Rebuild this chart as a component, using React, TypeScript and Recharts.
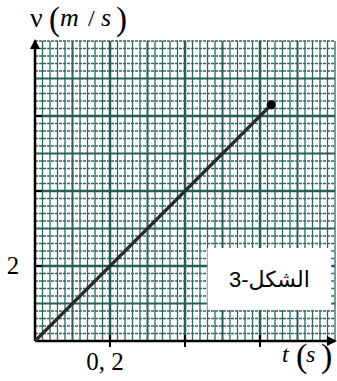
import React from 'react';
import {
  LineChart, Line, XAxis, YAxis, ReferenceArea, ReferenceLine,
} from 'recharts';

// ---- data ----
const lineT = [0, 0.63];
const lineV = [0, 6.3];
const data = lineT.map((t, i) => ({ t, v: lineV[i] }));

const tTicks = [0.2, 0.4, 0.6];
const vTicks = [2, 4, 6];
const tLabels: Record<string, string> = { '0.2': '0, 2' };
const vLabels: Record<string, string> = { '2': '2' };

// graph-paper lines (s and m/s)
const tMinor = [0.02, 0.04, 0.06, 0.08, 0.12, 0.14, 0.16, 0.18, 0.22, 0.24, 0.26, 0.28, 0.32, 0.34, 0.36, 0.38, 0.42, 0.44, 0.46, 0.48, 0.52, 0.54, 0.56, 0.58, 0.62, 0.64, 0.66, 0.68, 0.72, 0.74, 0.76, 0.78, 0.8];
const tMedium = [0.1, 0.3, 0.5, 0.7];
const tMajor = [0.2, 0.4, 0.6];
const vMinor = [0.2, 0.4, 0.6, 0.8, 1.2, 1.4, 1.6, 1.8, 2.2, 2.4, 2.6, 2.8, 3.2, 3.4, 3.6, 3.8, 4.2, 4.4, 4.6, 4.8, 5.2, 5.4, 5.6, 5.8, 6.2, 6.4, 6.6, 6.8, 7.2, 7.4, 7.6, 7.8, 8];
const vMedium = [1, 3, 5, 7];
const vMajor = [2, 4, 6];

const figureLabel = 'الشكل-3';
const boxT = [0.46, 0.79];
const boxV = [0.83, 2.48];

const tDomain: [number, number] = [0, 0.8];
const vDomain: [number, number] = [0, 8];

const SERIF = '"Liberation Serif", "Times New Roman", serif';
const TEAL_MINOR = '#2b6862';
const TEAL_MED = '#28605b';
const TEAL_MAJ = '#255d57';

const XTick = (props: any) => {
  const { x, y, payload } = props;
  const lab = tLabels[String(payload.value)];
  return (
    <g>
      <line x1={x} y1={y - 6} x2={x} y2={y + 6} stroke="#000" strokeWidth={2} />
      {lab && (
        <text x={x - 5} y={y + 29} textAnchor="middle" fontFamily={SERIF} fontSize={25} fill="#000">
          {lab}
        </text>
      )}
    </g>
  );
};

const YTick = (props: any) => {
  const { x, y, payload } = props;
  const lab = vLabels[String(payload.value)];
  return (
    <g>
      <line x1={x} y1={y} x2={x + 7} y2={y} stroke="#000" strokeWidth={2} />
      {lab && (
        <text x={13} y={y + 8} textAnchor="middle" fontFamily={SERIF} fontSize={25} fill="#000">
          {lab}
        </text>
      )}
    </g>
  );
};

const EndDot = (props: any) => {
  const { cx, cy, index } = props;
  if (index !== data.length - 1) return <g key={index} />;
  return <circle key={index} cx={cx} cy={cy} r={4.5} fill="#000" />;
};

const ax = { xAxisId: 'main', yAxisId: 'main' } as const;

export default function App() {
  return (
    <div style={{ position: 'absolute', left: 0, top: 0, width: 337, height: 381 }}>
      <LineChart width={337} height={381} data={data} margin={{ top: 41, right: 2, bottom: 0, left: 0 }}>
        <XAxis
          xAxisId="main" dataKey="t" type="number" domain={tDomain} ticks={tTicks}
          height={40} tickSize={0} tickMargin={0} tickLine={false}
          axisLine={false}
          tick={<XTick />} interval={0}
        />
        <YAxis
          yAxisId="main" type="number" domain={vDomain} ticks={vTicks}
          width={35} tickSize={0} tickMargin={0} tickLine={false}
          axisLine={false}
          tick={<YTick />} interval={0}
        />

        {tMinor.map((t) => (
          <ReferenceLine key={'tm' + t} {...ax} zIndex={-60} x={t} stroke={TEAL_MINOR} strokeWidth={1.3} />
        ))}
        {vMinor.map((v) => (
          <ReferenceLine key={'vm' + v} {...ax} zIndex={-60} y={v} stroke={TEAL_MINOR} strokeWidth={1.3} strokeDasharray="3 1" />
        ))}
        {tMedium.map((t) => (
          <ReferenceLine key={'td' + t} {...ax} zIndex={-55} x={t} stroke={TEAL_MED} strokeWidth={2} />
        ))}
        {vMedium.map((v) => (
          <ReferenceLine key={'vd' + v} {...ax} zIndex={-55} y={v} stroke={TEAL_MED} strokeWidth={2} />
        ))}
        {tMajor.map((t) => (
          <ReferenceLine key={'tj' + t} {...ax} zIndex={-50} x={t} stroke={TEAL_MAJ} strokeWidth={2.5} />
        ))}
        {vMajor.map((v) => (
          <ReferenceLine key={'vj' + v} {...ax} zIndex={-50} y={v} stroke={TEAL_MAJ} strokeWidth={2.5} />
        ))}

        <ReferenceArea
          {...ax}
          zIndex={50}
          x1={boxT[0]} x2={boxT[1]} y1={boxV[0]} y2={boxV[1]}
          fill="#fff" fillOpacity={1} stroke="none"
          label={{ value: figureLabel, position: 'center', fill: '#000', fontSize: 22, fontFamily: '"Liberation Sans", "DejaVu Sans", sans-serif' }}
        />

        <ReferenceLine {...ax} zIndex={60} y={0} stroke="#000" strokeWidth={2.5} markerEnd="url(#arrowHead)" />
        <ReferenceLine {...ax} zIndex={60} x={0} stroke="#000" strokeWidth={2.5} markerEnd="url(#arrowHead)" />

        <Line
          {...ax} dataKey="v" type="linear"
          stroke="#2b2b2b" strokeWidth={3.2} dot={<EndDot />} activeDot={false}
          isAnimationActive={false}
        />
      </LineChart>
      <svg width={337} height={381} style={{ position: 'absolute', left: 0, top: 0, pointerEvents: 'none' }}>
        <defs>
          <marker id="arrowHead" viewBox="0 0 10 10" refX="8" refY="5" markerWidth="4" markerHeight="4"
            orient="auto-start-reverse" markerUnits="strokeWidth">
            <path d="M0,0 L10,5 L0,10 z" fill="#000" />
          </marker>
        </defs>
        <g fontFamily={SERIF} fill="#000">
          <text x={30} y={27} fontSize={28}>ν</text>
          <text x={49} y={30} fontSize={33}>(</text>
          <text x={60} y={26} fontSize={26} fontStyle="italic">m</text>
          <text x={88} y={26} fontSize={24}>/</text>
          <text x={101} y={26} fontSize={26} fontStyle="italic">s</text>
          <text x={116} y={30} fontSize={33}>)</text>

          <text x={282} y={362} fontSize={24} fontStyle="italic">t</text>
          <text x={296} y={367} fontSize={34}>(</text>
          <text x={306} y={362} fontSize={24} fontStyle="italic">s</text>
          <text x={321} y={367} fontSize={34}>)</text>
        </g>
      </svg>
    </div>
  );
}
